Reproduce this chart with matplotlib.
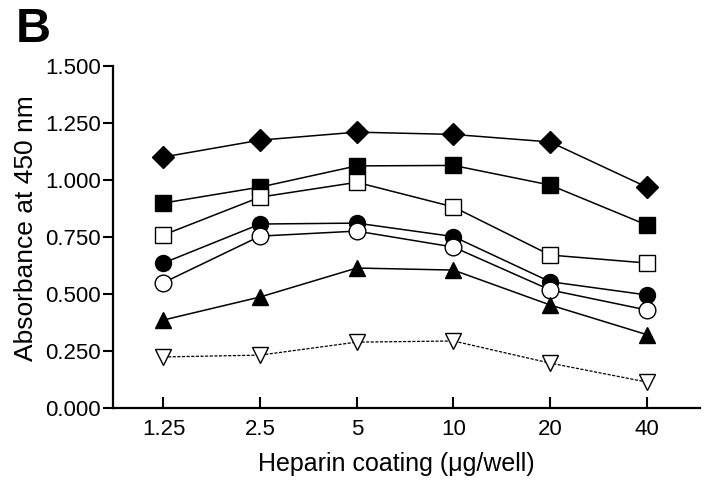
import matplotlib
matplotlib.use("Agg")
import matplotlib.pyplot as plt

plt.rcParams["font.family"] = ["Liberation Sans", "DejaVu Sans"]

doses = ["1.25", "2.5", "5", "10", "20", "40"]

filled_diamond = [1.101, 1.175, 1.210, 1.200, 1.167, 0.969]
filled_square = [0.899, 0.969, 1.062, 1.064, 0.978, 0.803]
open_square = [0.759, 0.925, 0.990, 0.882, 0.671, 0.636]
filled_circle = [0.636, 0.807, 0.811, 0.752, 0.554, 0.496]
open_circle = [0.550, 0.754, 0.776, 0.706, 0.518, 0.430]
filled_triangle = [0.386, 0.487, 0.614, 0.605, 0.452, 0.322]
open_down_triangle = [0.224, 0.232, 0.289, 0.294, 0.197, 0.114]

fig = plt.figure(figsize=(7.12, 4.82), dpi=100)
ax = fig.add_axes([0.159, 0.1535, 0.824, 0.7095])

x = list(range(len(doses)))
lw = 1.1

series = [
    (filled_diamond, "D", "black", 11.0),
    (filled_square, "s", "black", 11.0),
    (open_square, "s", "white", 11.0),
    (filled_circle, "o", "black", 11.5),
    (open_circle, "o", "white", 12.0),
    (filled_triangle, "^", "black", 11.5),
]
for vals, mk, fc, ms in series:
    ax.plot(x, vals, color="black", lw=lw, marker=mk, markersize=ms,
            markerfacecolor=fc, markeredgecolor="black", markeredgewidth=1.0,
            zorder=3)

# control series, dashed
ax.plot(x, open_down_triangle, color="black", lw=0.9, linestyle=(0, (2.5, 1.2)),
        marker="v", markersize=12, markerfacecolor="white",
        markeredgecolor="black", markeredgewidth=1.0, zorder=3)

ax.set_xlim(-0.52, 5.55)
ax.set_ylim(0, 1.5)
ax.set_xticks(x)
ax.set_xticklabels(doses)
ax.set_yticks([0, 0.25, 0.5, 0.75, 1.0, 1.25, 1.5])
ax.set_yticklabels(["0.000", "0.250", "0.500", "0.750", "1.000", "1.250", "1.500"])

for s in ["top", "right"]:
    ax.spines[s].set_visible(False)
for s in ["left", "bottom"]:
    ax.spines[s].set_linewidth(1.6)
ax.tick_params(axis="y", direction="out", length=7, width=1.5,
               labelsize=16, pad=2)
ax.tick_params(axis="x", direction="in", length=8, width=1.5,
               labelsize=16, pad=8)

ax.set_xlabel("Heparin coating (\u03bcg/well)", fontsize=18)
ax.set_ylabel("Absorbance at 450 nm", fontsize=19)
ax.xaxis.set_label_coords(0.482, -0.13)
ax.yaxis.set_label_coords(-0.128, 0.526)

fig.text(0.022, 0.985, "B", fontsize=35, fontweight="bold", va="top", ha="left")

fig.savefig("out.png", dpi=100)
